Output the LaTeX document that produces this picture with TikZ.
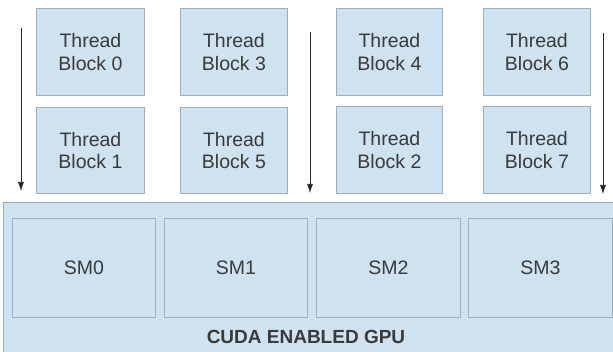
\documentclass[tikz,border=0pt]{standalone}
\usepackage{fontspec}
\setmainfont{Liberation Sans}
\usetikzlibrary{arrows.meta}
\definecolor{boxfill}{HTML}{CFE2F0}
\definecolor{boxline}{HTML}{9AAFC0}
\definecolor{txt}{HTML}{3A3A3A}
\begin{document}
\begin{tikzpicture}[x=1pt,y=-1pt,
  blk/.style={draw=boxline,line width=0.8pt,fill=boxfill,anchor=north west,inner sep=0pt,
    text=txt,font=\fontsize{19.5}{22.5}\selectfont,align=center},
  flow/.style={draw=black!85,line width=0.7pt,-{Latex[length=9pt,width=6pt]}}]
\useasboundingbox (0,0) rectangle (613,352);
% GPU
\node[blk,minimum width=620pt,minimum height=152pt] (gpu) at (3,202) {};
\node[text=txt,font=\bfseries\fontsize{19}{22}\selectfont] (gputxt) at (306,337) {CUDA ENABLED GPU};
\node[blk,minimum width=143pt,minimum height=99pt] (sm0) at (12,218) {SM0};
\node[blk,minimum width=143pt,minimum height=99pt] (sm1) at (164,218) {SM1};
\node[blk,minimum width=144pt,minimum height=99pt] (sm2) at (316,218) {SM2};
\node[blk,minimum width=144pt,minimum height=99pt] (sm3) at (468,218) {SM3};
% thread blocks
\node[blk,minimum width=108pt,minimum height=87pt] (b0) at (36,8) {Thread\\Block 0};
\node[blk,minimum width=108pt,minimum height=86pt] (b1) at (36,107) {Thread\\Block 1};
\node[blk,minimum width=107pt,minimum height=87pt] (b3) at (180,8) {Thread\\Block 3};
\node[blk,minimum width=107pt,minimum height=86pt] (b5) at (180,107) {Thread\\Block 5};
\node[blk,minimum width=106pt,minimum height=87pt] (b4) at (336,8) {Thread\\Block 4};
\node[blk,minimum width=106pt,minimum height=87pt] (b2) at (336,106) {Thread\\Block 2};
\node[blk,minimum width=107pt,minimum height=87pt] (b6) at (483,8) {Thread\\Block 6};
\node[blk,minimum width=107pt,minimum height=87pt] (b7) at (483,106) {Thread\\Block 7};
% arrows
\coordinate (a1s) at (21,28); \coordinate (a1e) at (21,191);
\coordinate (a2s) at (310,32); \coordinate (a2e) at (310,193);
\coordinate (a3s) at (603,33); \coordinate (a3e) at (603,194);
\draw[flow] (a1s) -- (a1e);
\draw[flow] (a2s) -- (a2e);
\draw[flow] (a3s) -- (a3e);
\end{tikzpicture}
\end{document}
